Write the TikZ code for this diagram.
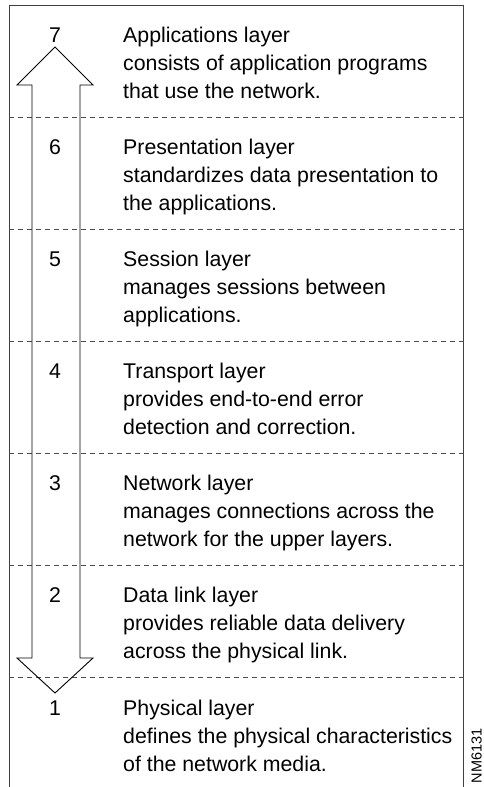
\documentclass[tikz,border=0pt]{standalone}
\usepackage{fontspec}
\setmainfont{Liberation Sans}
\begin{document}
\begin{tikzpicture}[x=1pt,y=-1pt,
  frame/.style={line width=0.9pt,draw=black!75},
  sep/.style={line width=0.8pt,draw=black!70,dash pattern=on 5pt off 4pt},
  updown/.style={line width=0.9pt,draw=black},
  num/.style={anchor=base,inner sep=0pt,font=\fontsize{21.3}{28}\selectfont},
  desc/.style={anchor=base west,inner sep=0pt,font=\fontsize{21.3}{28}\selectfont},
  tag/.style={anchor=base west,inner sep=0pt,rotate=90,font=\fontsize{14.5}{18}\selectfont}]
\useasboundingbox (0,0) rectangle (484,787);

% open-bottomed frame
\draw[frame] (9,787) -- (9,5) -- (463.5,5) -- (463.5,787);

% dashed separators between the layers
\foreach \y in {117,229,341,453,565,677}
  \draw[sep] (9,\y) -- (463.5,\y);

% double-headed hollow arrow
\coordinate (top) at (55,47);
\coordinate (bot) at (55,693);
\draw[updown] (32,658) -- (32,85) -- (17,85) -- (top) -- (93,85) -- (80,85)
  -- (80,658) -- (93,658) -- (bot) -- (17,658) -- cycle;

% layer numbers
\node[num] (n7) at (55,42) {7};
\node[num] (n6) at (55,154) {6};
\node[num] (n5) at (55,266) {5};
\node[num] (n4) at (55,378) {4};
\node[num] (n3) at (55,490) {3};
\node[num] (n2) at (55,602) {2};
\node[num] (n1) at (55,715) {1};

% layer descriptions
\node[desc] (d7a) at (123,42) {Applications layer};
\node[desc] (d7b) at (123,70) {consists of application programs};
\node[desc] (d7c) at (123,98) {that use the network.};

\node[desc] (d6a) at (123,154) {Presentation layer};
\node[desc] (d6b) at (123,182) {standardizes data presentation to};
\node[desc] (d6c) at (123,210) {the applications.};

\node[desc] (d5a) at (123,266) {Session layer};
\node[desc] (d5b) at (123,294) {manages sessions between};
\node[desc] (d5c) at (123,322) {applications.};

\node[desc] (d4a) at (123,378) {Transport layer};
\node[desc] (d4b) at (123,406) {provides end-to-end error};
\node[desc] (d4c) at (123,434) {detection and correction.};

\node[desc] (d3a) at (123,490) {Network layer};
\node[desc] (d3b) at (123,518) {manages connections across the};
\node[desc] (d3c) at (123,546) {network for the upper layers.};

\node[desc] (d2a) at (123,602) {Data link layer};
\node[desc] (d2b) at (123,630) {provides reliable data delivery};
\node[desc] (d2c) at (123,658) {across the physical link.};

\node[desc] (d1a) at (123,715) {Physical layer};
\node[desc] (d1b) at (123,743) {defines the physical characteristics};
\node[desc] (d1c) at (123,771) {of the network media.};

% figure tag
\node[tag] (fig) at (481.5,783.5) {NM6131};
\end{tikzpicture}
\end{document}
